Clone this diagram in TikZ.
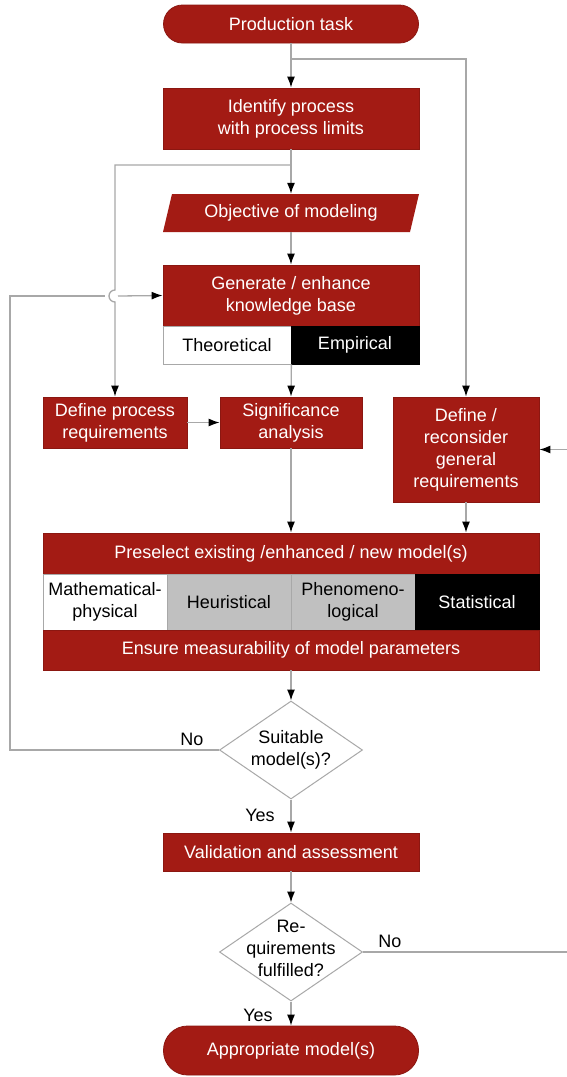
\documentclass[tikz,border=0pt]{standalone}
\usepackage{fontspec}
\setmainfont{Liberation Sans}
\usetikzlibrary{arrows.meta,shapes.geometric}
\definecolor{boxred}{RGB}{163,27,20}
\definecolor{linegray}{RGB}{168,168,168}
\definecolor{cellgray}{RGB}{192,192,192}

\begin{document}
\begin{tikzpicture}[x=1pt,y=-1pt,
  every node/.style={font=\fontsize{18}{22}\selectfont, align=center, inner sep=0pt},
  redbox/.style={fill=boxred, draw=boxred!85!black, line width=0.8pt, text=white},
  term/.style={redbox, rounded corners=19pt},
  cell/.style={draw=linegray, line width=0.8pt, text=black, minimum width=124pt, minimum height=56pt},
  decision/.style={shape=diamond, fill=white, draw=linegray, line width=1pt,
    minimum width=143pt, minimum height=98pt},
  wire/.style={draw=linegray, line width=1.3pt},
  flow/.style={wire, -{Latex[length=11pt,width=8pt,color=black]}},
]
\fill[white] (0,0) rectangle (567,1077);
\useasboundingbox (0,0) rectangle (567,1077);

% ---- boxes of the main column ----
\node[term, minimum width=255pt, minimum height=38pt] (prod) at (291,24) {Production task};
\node[redbox, minimum width=256pt, minimum height=61pt] (ident) at (291,118.5) {Identify process\\with process limits};
\fill[boxred] (163,232) -- (410,232) -- (419,194) -- (172,194) -- cycle;
\node[text=white, minimum width=247pt, minimum height=38pt] (obj) at (291,213) {Objective of modeling};
\node[redbox, minimum width=256pt, minimum height=61pt] (gen) at (291,295.5) {Generate / enhance\\knowledge base};
\node[fill=white, draw=linegray, line width=0.8pt, text=black, minimum width=128pt, minimum height=38pt] (theo) at (227,345) {Theoretical};
\node[fill=black, draw=black, text=white, minimum width=128pt, minimum height=38pt] (emp) at (355,345) {Empirical};

% ---- requirement boxes ----
\node[redbox, minimum width=144pt, minimum height=51pt] (dpr) at (115,422.5) {Define process\\requirements};
\node[redbox, minimum width=142pt, minimum height=51pt] (sig) at (291,422.5) {Significance\\analysis};
\node[redbox, minimum width=146pt, minimum height=105pt] (dgr) at (466,449.5) {Define /\\reconsider\\general\\requirements};

% ---- model preselection block ----
\node[redbox, minimum width=496pt, minimum height=41pt] (pre) at (291,553.5) {Preselect existing /enhanced / new model(s)};
\node[cell, fill=white] (c1) at (105,602) {Mathematical-\\physical};
\node[cell, fill=cellgray] (c2) at (229,602) {Heuristical};
\node[cell, fill=cellgray] (c3) at (353,602) {Phenomeno-\\logical};
\node[cell, fill=black, draw=black, text=white] (c4) at (477,602) {Statistical};
\node[redbox, minimum width=496pt, minimum height=40pt] (ens) at (291,650) {Ensure measurability of model parameters};

% ---- decisions and end ----
\node[decision] (suit) at (291,750) {};
\node (suittxt) at (291,750) {Suitable\\model(s)?};
\node[redbox, minimum width=256pt, minimum height=38pt] (val) at (291,852) {Validation and assessment};
\node[decision] (req) at (291,952) {};
\node (reqtxt) at (291,948) {Re-\\quirements\\fulfilled?};
\node[term, rounded corners=24pt, minimum width=255pt, minimum height=49pt] (app) at (291,1050.5) {Appropriate model(s)};

% ---- connectors ----
\coordinate (br1) at (291,59);
\coordinate (br2) at (291,165);
\coordinate (hop) at (115,290);
\coordinate (fbl) at (10,750);
\coordinate (fbt) at (10,296);
\coordinate (gapl) at (105,296);
\coordinate (gapr) at (118,296);
\coordinate (edgeb) at (567,952);
\coordinate (edget) at (567,449.5);

\draw[flow] (prod.south) -- (ident.north);
\draw[flow] (br1) -| (dgr.north);
\draw[flow] (ident.south) -- (obj.north);
\draw[flow] (br2) -| (hop) arc[start angle=90, end angle=270, radius=6pt] -- (dpr.north);
\draw[flow] (obj.south) -- (gen.north);
\draw[flow] (theo.south east) -- (sig.north);
\draw[flow] (dpr.east) -- (sig.west);
\draw[flow] (sig.south) -- (pre.north);
\draw[flow] (dgr.south) -- (dgr.south |- pre.north);
\draw[flow] (ens.south) -- (suit.north);
\draw[wire] (suit.west) -- (fbl) -- (fbt) -- (gapl);
\draw[flow] (gapr) -- (gen.west);
\node (no1) at (192,739) {No};
\draw[flow] (suit.south) -- (val.north);
\node (yes1) at (260,815) {Yes};
\draw[flow] (val.south) -- (req.north);
\draw[wire] (req.east) -- (edgeb);
\node (no2) at (390,941) {No};
\draw[flow] (edget) -- (dgr.east);
\draw[flow] (req.south) -- (app.north);
\node (yes2) at (258,1015) {Yes};
\end{tikzpicture}
\end{document}
